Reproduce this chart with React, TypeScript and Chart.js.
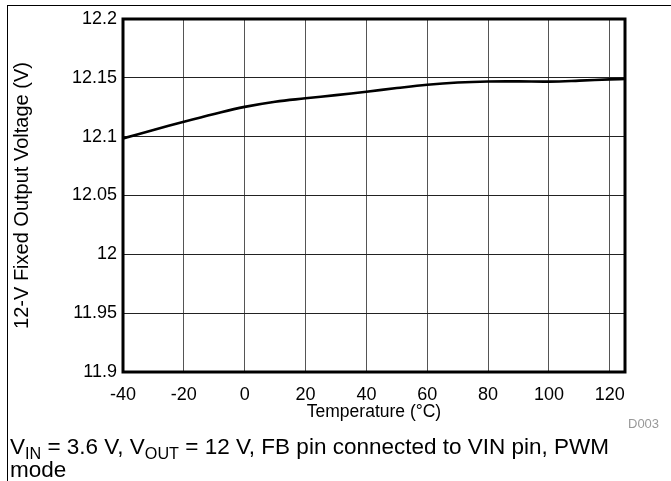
import React, { useEffect, useRef } from "react";
import { Chart, registerables } from "chart.js";

Chart.register(...registerables);

const temperatures = [-40, -30, -20, -10, 0, 10, 20, 30, 40, 50, 60, 70, 80, 90, 100, 110, 120, 125];
const outputVoltage = [12.0985, 12.1057, 12.1127, 12.1193, 12.1253, 12.1297, 12.1326, 12.1353, 12.1382, 12.1413, 12.1441, 12.146, 12.1469, 12.147, 12.1468, 12.1476, 12.1487, 12.149];
const xTickValues = [-40, -20, 0, 20, 40, 60, 80, 100, 120];
const yTickValues = [11.9, 11.95, 12, 12.05, 12.1, 12.15, 12.2];

const FONT = "'Liberation Sans', Arial, sans-serif";

const frameBorder = {
  id: "frameBorder",
  afterDatasetsDraw(chart: any) {
    const { ctx, chartArea } = chart;
    ctx.save();
    ctx.strokeStyle = "#000";
    ctx.lineWidth = 3;
    ctx.strokeRect(chartArea.left, chartArea.top, chartArea.right - chartArea.left, chartArea.bottom - chartArea.top);
    ctx.restore();
  },
};

export default function App() {
  const ref = useRef<HTMLCanvasElement | null>(null);

  useEffect(() => {
    if (!ref.current) return;
    const chart = new Chart(ref.current, {
      type: "line",
      data: {
        datasets: [
          {
            data: temperatures.map((t, i) => ({ x: t, y: outputVoltage[i] })),
            borderColor: "#000",
            borderWidth: 2.6,
            pointRadius: 0,
            tension: 0.4,
            fill: false,
          },
        ],
      },
      options: {
        responsive: false,
        animation: false,
        devicePixelRatio: 1,
        layout: { padding: { left: 0, top: 19, right: 46, bottom: 49 } },
        plugins: { legend: { display: false }, tooltip: { enabled: false } },
        scales: {
          x: {
            type: "linear",
            min: -40,
            max: 125,
            afterBuildTicks: (scale: any) => {
              scale.ticks = xTickValues.map((v) => ({ value: v }));
            },
            afterFit: (scale: any) => {
              scale.height = 60;
            },
            grid: { color: "#555", lineWidth: 1, drawTicks: false },
            border: { display: false },
            ticks: {
              padding: 12,
              color: "#000",
              font: { family: FONT, size: 18 },
              maxRotation: 0,
              autoSkip: false,
            },
            title: {
              display: true,
              text: "Temperature (°C)",
              color: "#000",
              font: { family: FONT, size: 17.5 },
              padding: { top: 0, bottom: 9 },
            },
          },
          y: {
            type: "linear",
            min: 11.9,
            max: 12.2,
            afterBuildTicks: (scale: any) => {
              scale.ticks = yTickValues.map((v) => ({ value: v }));
            },
            afterFit: (scale: any) => {
              scale.width = 123;
            },
            grid: { color: "#222", lineWidth: 1, drawTicks: false },
            border: { display: false },
            ticks: {
              padding: 6,
              color: "#000",
              font: { family: FONT, size: 18 },
              callback: (v: any) => String(Math.round(Number(v) * 100) / 100),
            },
            title: {
              display: true,
              text: "12-V Fixed Output Voltage (V)",
              color: "#000",
              font: { family: FONT, size: 20 },
              padding: { top: 10, bottom: 0 },
            },
          },
        },
      },
      plugins: [frameBorder],
    } as any);
    return () => chart.destroy();
  }, []);

  const subStyle = { fontSize: "0.72em", verticalAlign: "-0.3em", lineHeight: 0 } as const;

  return (
    <div style={{ position: "fixed", left: 0, top: 0, width: 671, height: 481, background: "#fff", overflow: "hidden", fontFamily: FONT }}>
      <div style={{ position: "absolute", left: 7, top: 5, width: 664, height: 1, background: "#000" }} />
      <div style={{ position: "absolute", left: 7, top: 5, width: 1, height: 476, background: "#000" }} />
      <canvas ref={ref} width={671} height={481} style={{ position: "absolute", left: 0, top: 0, width: 671, height: 481 }} />
      <div style={{ position: "absolute", left: 628, top: 416, fontSize: 13, color: "#999" }}>D003</div>
      <div style={{ position: "absolute", left: 10, top: 435, fontSize: 22.5, lineHeight: "23px", color: "#000", whiteSpace: "nowrap" }}>
        V<sub style={subStyle}>IN</sub> = 3.6 V, V<sub style={subStyle}>OUT</sub> = 12 V, FB pin connected to VIN pin, PWM
        <br />
        mode
      </div>
    </div>
  );
}
